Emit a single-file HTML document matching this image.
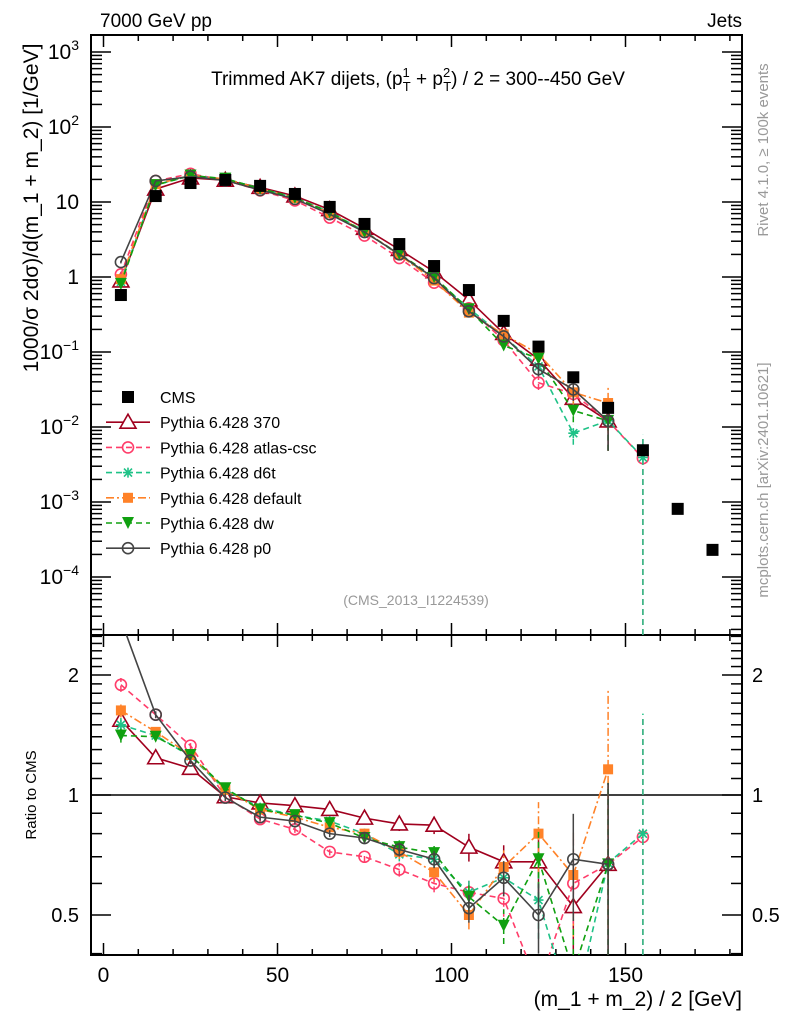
<!DOCTYPE html>
<html><head><meta charset="utf-8"><style>
html,body{margin:0;padding:0;background:#fff;overflow:hidden}
svg{display:block;font-family:"Liberation Sans",sans-serif}
</style></head><body>
<svg id="chart" width="786" height="1024" viewBox="0 0 786 1024" xmlns="http://www.w3.org/2000/svg">
<defs>
<clipPath id="clipMain"><rect x="91" y="35" width="651" height="600"/></clipPath>
<clipPath id="clipRatio"><rect x="91" y="635" width="651" height="320"/></clipPath>
</defs>
<text x="100" y="27" font-size="19">7000 GeV pp</text>
<text x="742" y="27" font-size="19" text-anchor="end">Jets</text>
<text x="418" y="85" font-size="19" text-anchor="middle">Trimmed AK7 dijets, (p<tspan font-size="13" dy="-8">1</tspan><tspan font-size="13" dx="-7" dy="14">T</tspan><tspan dy="-6"> + p</tspan><tspan font-size="13" dy="-8">2</tspan><tspan font-size="13" dx="-7" dy="14">T</tspan><tspan dy="-6">) / 2 = 300--450 GeV</tspan></text>
<text transform="translate(38,208) rotate(-90)" font-size="21" text-anchor="middle">1000/σ  2dσ)/d(m_1 + m_2) [1/GeV]</text>
<text transform="translate(36,795) rotate(-90)" font-size="15" text-anchor="middle">Ratio to CMS</text>
<text transform="translate(768,150) rotate(-90)" font-size="15" fill="#999" text-anchor="middle">Rivet 4.1.0, ≥ 100k events</text>
<text transform="translate(768,480) rotate(-90)" font-size="15" fill="#999" text-anchor="middle">mcplots.cern.ch [arXiv:2401.10621]</text>
<text x="416" y="605" font-size="14" fill="#999" text-anchor="middle">(CMS_2013_I1224539)</text>
<text x="742" y="1006" font-size="21" text-anchor="end">(m_1 + m_2) / 2 [GeV]</text>
<g id="axes"></g>
<g id="mainSeries" clip-path="url(#clipMain)"></g>
<g id="ratioSeries" clip-path="url(#clipRatio)"></g>
<g id="legend"></g>
</svg>
<script>
const xs = [5,15,25,35,45,55,65,75,85,95,105,115,125,135,145,155,165,175];
const cmsValues = [0.575,12,17.9,19.7,16.4,12.8,8.6,5.1,2.75,1.4,0.67,0.26,0.118,0.046,0.018,0.0049,0.00081,0.00023];
const ratio370 = [1.54,1.24,1.167,0.99,0.955,0.94,0.92,0.875,0.846,0.84,0.74,0.68,0.68,0.525,0.67,null];
const ratioAtlas = [1.89,1.59,1.33,0.99,0.87,0.82,0.72,0.70,0.65,0.60,0.57,0.55,0.33,0.60,0.67,0.785];
const ratioD6t = [1.5,1.41,1.25,1.03,0.93,0.89,0.86,0.80,0.71,0.69,0.57,0.62,0.545,0.18,0.675,0.8];
const ratioDefault = [1.63,1.44,1.26,1.03,0.92,0.88,0.83,0.80,0.72,0.64,0.50,0.66,0.80,0.63,1.16,null];
const ratioDw = [1.41,1.40,1.26,1.04,0.92,0.89,0.85,0.78,0.74,0.715,0.555,0.47,0.69,0.36,0.67,null];
const ratioP0 = [2.75,1.59,1.22,0.985,0.88,0.86,0.80,0.78,0.73,0.69,0.52,0.62,0.50,0.69,0.67,null];
const mcRelErr = [0.04,0.02,0.02,0.02,0.02,0.02,0.02,0.03,0.04,0.05,0.08,0.1,0.2,0.3,0.6,1.0];
const xTicks = [0,50,100,150];
const mainTickExps = [3,2,1,0,-1,-2,-3,-4];
const ratioTicks = [2,1,0.5];
const ratioTickLabels = ["2","1","0.5"];

const NS="http://www.w3.org/2000/svg";
const X0=103.5, XS=3.48, LEFT=91, RIGHT=742, MT=35, MB=635, RB=955;
const xPix = v => X0 + XS*v;
const clamp = (y,a,b,pad) => Math.max(a-pad, Math.min(b+pad, y));
const yMain = v => clamp(277 - 75*Math.log10(v), MT, MB, 10);
const yRatio = r => clamp(795 - 120*Math.log2(r), MB, RB, 60);
function mk(tag, attrs, parent){const e=document.createElementNS(NS,tag);for(const k in attrs)e.setAttribute(k,attrs[k]);parent.appendChild(e);return e;}
const axes=document.getElementById('axes');

let f1=mk('rect',{x:LEFT,y:MT,width:RIGHT-LEFT,height:MB-MT,fill:'none',stroke:'#000','stroke-width':2},axes);


let f2=mk('rect',{x:LEFT,y:MB,width:RIGHT-LEFT,height:RB-MB,fill:'none',stroke:'#000','stroke-width':2},axes);


let one=mk('line',{x1:LEFT,x2:RIGHT,y1:795,y2:795,stroke:'#000','stroke-width':1.5},axes);



for(let v=0; v<=180; v+=10){
  const x=xPix(v), major=(v%50===0);
  const L=major?12:6;
  mk('line',{x1:x,x2:x,y1:RB,y2:RB-L,stroke:'#000','stroke-width':1.5},axes);
  mk('line',{x1:x,x2:x,y1:MB,y2:MB-L,stroke:'#000','stroke-width':1.5},axes);
  mk('line',{x1:x,x2:x,y1:MB,y2:MB+L,stroke:'#000','stroke-width':1.5},axes);
  mk('line',{x1:x,x2:x,y1:MT,y2:MT+L,stroke:'#000','stroke-width':1.5},axes);
}
xTicks.forEach(v=>{
  const t=mk('text',{x:xPix(v),y:982,'font-size':21,'text-anchor':'middle'},axes);
  t.textContent=String(v);
  
  
});

for(let e=-5;e<=3;e++){
  for(let m=1;m<10;m++){
    const y=277 - 75*Math.log10(m*Math.pow(10,e));
    if(y<MT||y>MB) continue;
    const L=m===1?20:11;
    mk('line',{x1:LEFT,x2:LEFT+L,y1:y,y2:y,stroke:'#000','stroke-width':1.5},axes);
    mk('line',{x1:RIGHT,x2:RIGHT-L,y1:y,y2:y,stroke:'#000','stroke-width':1.5},axes);
  }
}
mainTickExps.forEach(e=>{
  const y=277 - 75*e;
  const t=mk('text',{x:79,y:y+7,'font-size':21,'text-anchor':'end'},axes);
  
  
  if(e===1) t.textContent='10';
  else if(e===0) t.textContent='1';
  else { t.appendChild(document.createTextNode('10')); const s=document.createElementNS(NS,'tspan'); s.setAttribute('font-size','14'); s.setAttribute('dy','-9'); s.textContent=(e<0?'\u2212'+(-e):String(e)); t.appendChild(s); }
});

for(let r=0.4; r<=2.5; r=Math.round((r+0.1)*10)/10){
  const y=795 - 120*Math.log2(r); if(y<MB||y>RB) continue;
  const major=(r===0.5||r===1||r===2);
  const L=major?20:11;
  mk('line',{x1:LEFT,x2:LEFT+L,y1:y,y2:y,stroke:'#000','stroke-width':1.5},axes);
  mk('line',{x1:RIGHT,x2:RIGHT-L,y1:y,y2:y,stroke:'#000','stroke-width':1.5},axes);
}
ratioTicks.forEach((r,i)=>{
  [[79,'end'],[752,'start']].forEach(([x,a])=>{
    const t=mk('text',{x:x,y:795 - 120*Math.log2(r)+7,'font-size':20,'text-anchor':a},axes);
    t.textContent=ratioTickLabels[i];
    
    
  });
});

function marker(type,x,y,color,parent){
  let e;
  if(type==='square') e=mk('rect',{x:x-6,y:y-6,width:12,height:12,fill:color},parent);
  else if(type==='osquare') e=mk('rect',{x:x-5,y:y-5,width:10,height:10,fill:color},parent);
  else if(type==='tri') e=mk('polygon',{points:`${x},${y-8} ${x-8},${y+6} ${x+8},${y+6}`,fill:'#fff',stroke:color,'stroke-width':1.6},parent);
  else if(type==='circ') e=mk('circle',{cx:x,cy:y,r:5.5,fill:'none',stroke:color,'stroke-width':1.6},parent);
  else if(type==='dtri') e=mk('polygon',{points:`${x-6},${y-6} ${x+6},${y-6} ${x},${y+6}`,fill:color},parent);
  else if(type==='star'){ e=mk('path',{d:`M${x-5},${y}H${x+5}M${x},${y-5}V${y+5}M${x-4},${y-4}L${x+4},${y+4}M${x-4},${y+4}L${x+4},${y-4}`,stroke:color,'stroke-width':1.6},parent);}
  return e;
}

const series=[
 {name:'Pythia 6.428 370',ratio:ratio370,color:'#a0001e',dash:'',m:'tri',key:'370'},
 {name:'Pythia 6.428 atlas-csc',ratio:ratioAtlas,color:'#ff3d6a',dash:'6,4',m:'circ',key:'atlas-csc'},
 {name:'Pythia 6.428 d6t',ratio:ratioD6t,color:'#1fc287',dash:'6,4',m:'star',key:'d6t'},
 {name:'Pythia 6.428 default',ratio:ratioDefault,color:'#ff8228',dash:'8,3,2,3',m:'osquare',key:'default'},
 {name:'Pythia 6.428 dw',ratio:ratioDw,color:'#10a010',dash:'6,4',m:'dtri',key:'dw'},
 {name:'Pythia 6.428 p0',ratio:ratioP0,color:'#444',dash:'',m:'circ',key:'p0'}
];
const mainG=document.getElementById('mainSeries'), ratioG=document.getElementById('ratioSeries');

series.forEach(s=>{
  ['main','ratio'].forEach(panel=>{
    const g=mk('g',{},panel==='main'?mainG:ratioG);
    
    
    const pts=[];
    const yf = panel==='main'? yMain : yRatio;
    s.ratio.forEach((r,i)=>{
      if(r===null) return;
      const v = panel==='main'? cmsValues[i]*r : r;
      const x=xPix(xs[i]), y=yf(v);
      const lo=Math.max(v*(1-mcRelErr[i]),1e-9), hi=v*(1+mcRelErr[i]);
      const eb=mk('line',{x1:x,x2:x,y1:yf(lo),y2:yf(hi),stroke:s.color,'stroke-width':1.5,'stroke-dasharray':s.dash},g);
      
      
      pts.push([x,y]);
    });
    const pl=mk('polyline',{points:pts.map(p=>p.join(',')).join(' '),fill:'none',stroke:s.color,'stroke-width':1.6,'stroke-dasharray':s.dash},g);
    
    
    pts.forEach(p=>{const mm=marker(s.m,p[0],p[1],s.color,g);
      
      });
  });
});

const cg=mk('g',{},mainG);


cmsValues.forEach((v,i)=>{
  const mm=marker('square',xPix(xs[i]),yMain(v),'#000',cg);
  
  
});

const lg=document.getElementById('legend');
const rows=[{name:'CMS',m:'square',color:'#000',dash:null}].concat(series);
rows.forEach((s,i)=>{
  const y=397+i*25.2;
  const g=mk('g',{},lg);
  
  
  if(s.dash!==null) mk('line',{x1:106,x2:150,y1:y,y2:y,stroke:s.color,'stroke-width':1.6,'stroke-dasharray':s.dash},g);
  marker(s.m,128,y,s.color,g);
  const t=mk('text',{x:160,y:y+6,'font-size':16},g);
  t.textContent=s.name;
});
</script>
</body></html>
